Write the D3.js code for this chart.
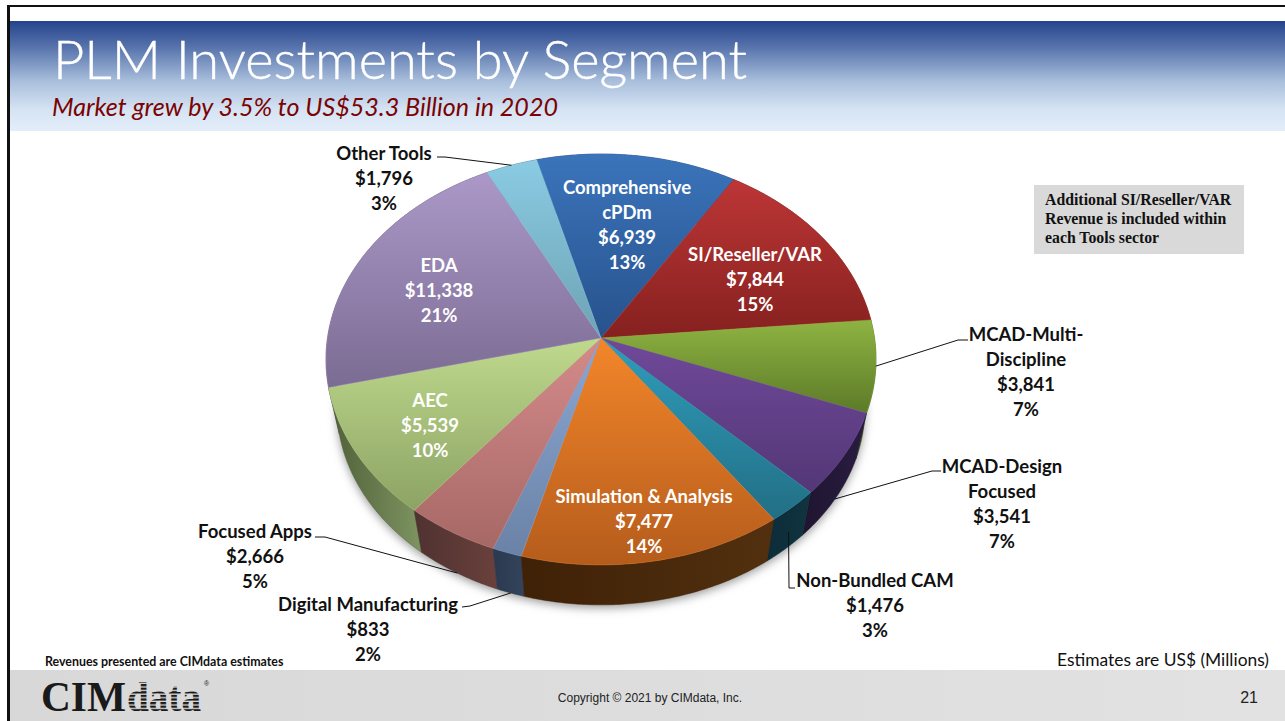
<!DOCTYPE html>
<html><head><meta charset="utf-8">
<script src="https://cdn.jsdelivr.net/npm/d3@7/dist/d3.min.js"></script>
<style>html,body{margin:0;padding:0;background:#fff;overflow:hidden}svg{display:block}</style>
</head><body><svg id="c" width="1285" height="721"></svg>
<script>
// ---- data ----
const segments = ["Comprehensive cPDm","SI/Reseller/VAR","MCAD-Multi-Discipline","MCAD-Design Focused","Non-Bundled CAM","Simulation & Analysis","Digital Manufacturing","Focused Apps","AEC","EDA","Other Tools"];
const values = [6939,7844,3841,3541,1476,7477,833,2666,5539,11338,1796];
const percents = ["13%","15%","7%","7%","3%","14%","2%","5%","10%","21%","3%"];
const valueLabels = ["$6,939","$7,844","$3,841","$3,541","$1,476","$7,477","$833","$2,666","$5,539","$11,338","$1,796"];
const nameLines = [["Comprehensive","cPDm"],["SI/Reseller/VAR"],["MCAD-Multi-","Discipline"],["MCAD-Design","Focused"],["Non-Bundled CAM"],["Simulation & Analysis"],["Digital Manufacturing"],["Focused Apps"],["AEC"],["EDA"],["Other Tools"]];

// ---- styles and layout (separate from data) ----
const topLight = ["#3b74bb","#bd3636","#8fb342","#70499a","#2f9dbb","#f3862a","#8ba7d3","#d48b8a","#bfd98d","#ab98c8","#8acbe3"];
const topDark  = ["#27528c","#85211f","#5c7a28","#533776","#226f85","#b55c1c","#6a82a6","#a66866","#8ca364","#7b6c93","#6ea3b4"];
const sideA = ["#1d3558","#4f1716","#3a4a18","#1f1530","#0c2c38","#3f2107","#2a394e","#4f3230","#4f5f38","#4a4058","#40606c"];
const sideB = ["#1d3558","#4f1716","#3a4a18","#2a1c42","#103440","#52300f","#33445c","#6a403c","#7e9461","#4a4058","#40606c"];
const labelLayout = [
 {x:627,y:188,c:"#fff"},{x:755,y:255,c:"#fff"},{x:1026,y:335,c:"#111",lead:[[968,340],[958,340]],z:0},
 {x:1002,y:467,c:"#111",lead:[[941,471],[932,471]],z:1},{x:875,y:581,c:"#111",lead:[[795,588],[789,588]],z:.6},
 {x:644,y:497,c:"#fff"},{x:368,y:605,c:"#111",lead:[[462,607],[470,606]],z:1},
 {x:255,y:532,c:"#111",lead:[[315,537],[325,537]],z:1},{x:430,y:401,c:"#fff"},{x:439,y:266,c:"#fff"},
 {x:384,y:154,c:"#111",lead:[[437,157],[445,157]],z:0}];
const lineStep = 25;
const pieGeom = {cx:601, cy:338, R:273.5, S:203.2, k:-0.1046, depth:49, shrink:0.96, start:-15*Math.PI/180};

const svg = d3.select("#c");
const defs = svg.append("defs");

function grad(id, stops, vertical){
  const g = defs.append("linearGradient").attr("id",id)
    .attr("x1",0).attr("y1",0).attr("x2",vertical?0:1).attr("y2",vertical?1:0);
  stops.forEach(s=>g.append("stop").attr("offset",s[0]).attr("stop-color",s[1]));
}
grad("hdr",[[0,"#25438c"],[.25,"#5a76ae"],[.55,"#a9bfdc"],[.8,"#d5e3f3"],[1,"#e3eef9"]],true);
grad("ftr",[[0,"#d8d8d8"],[1,"#e2e2e2"]],false);
const stripe = defs.append("pattern").attr("id","stripe").attr("patternUnits","userSpaceOnUse").attr("width",4).attr("height",3.6);
stripe.append("rect").attr("width",4).attr("height",2.3).attr("fill","#1a1a1a");
defs.append("filter").attr("id","blur").append("feGaussianBlur").attr("stdDeviation",5);

// ---- slide frame ----
svg.append("rect").attr("x",7).attr("y",21).attr("width",1278).attr("height",110).attr("fill","url(#hdr)");
svg.append("rect").attr("x",9).attr("y",670).attr("width",1276).attr("height",51).attr("fill","url(#ftr)");
svg.append("rect").attr("x",7).attr("y",5).attr("width",1278).attr("height",2).attr("fill","#111");
svg.append("rect").attr("x",7).attr("y",5).attr("width",3).attr("height",716).attr("fill","#111");

svg.append("text").attr("x",53).attr("y",79).attr("font-family","Lato").attr("font-weight",300).attr("font-size",53).attr("fill","#fff").attr("stroke","#fff").attr("stroke-width",.4).attr("textLength",694).attr("lengthAdjust","spacingAndGlyphs").text("PLM Investments by Segment");
svg.append("text").attr("x",52).attr("y",116).attr("font-family","Lato").attr("font-style","italic").attr("font-size",25).attr("fill","#7a0303").attr("textLength",506).attr("lengthAdjust","spacingAndGlyphs").text("Market grew by 3.5% to US$53.3 Billion in 2020");

// ---- pie ----
const pie = d3.pie().sort(null).startAngle(pieGeom.start).endAngle(pieGeom.start+2*Math.PI)(values);
function rim(a, z){
  const u=Math.sin(a), v=-Math.cos(a), w=1+pieGeom.k*v, f=1+(pieGeom.shrink-1)*z;
  return [pieGeom.cx+pieGeom.R*f*u/w, pieGeom.cy+pieGeom.S*f*v/w+pieGeom.depth*z];
}
function arcPts(d,z){
  const n=Math.max(2,Math.ceil((d.endAngle-d.startAngle)/0.01));
  return d3.range(n+1).map(i=>rim(d.startAngle+(d.endAngle-d.startAngle)*i/n,z));
}
const line=d3.line();
pie.forEach((d,i)=>{
  grad("t"+i,[[0,topLight[i]],[1,topDark[i]]],true);
  grad("s"+i,[[0,sideA[i]],[1,sideB[i]]],false);
});
// soft shadow
svg.append("path").attr("d",line(d3.range(0,6.3,.05).map(a=>{const p=rim(a,1);return [p[0],p[1]+3];}))+"Z").attr("fill","#999").attr("filter","url(#blur)");
// sides, then tops
const order=d3.range(pie.length).sort((a,b)=>Math.cos((pie[b].startAngle+pie[b].endAngle)/2)-Math.cos((pie[a].startAngle+pie[a].endAngle)/2));
svg.append("g").selectAll("path").data(order).join("path")
  .attr("d",i=>line(arcPts(pie[i],0).concat(arcPts(pie[i],1).reverse()))+"Z")
  .attr("fill",i=>`url(#s${i})`).attr("stroke",i=>sideA[i]).attr("stroke-width",.5);
svg.append("g").selectAll("path").data(pie).join("path")
  .attr("d",d=>line([[pieGeom.cx,pieGeom.cy]].concat(arcPts(d,0)))+"Z")
  .attr("fill",(d,i)=>`url(#t${i})`).attr("stroke",(d,i)=>topLight[i]).attr("stroke-width",.4);

// ---- leaders ----
pie.forEach((d,i)=>{
  const L=labelLayout[i]; if(!L.lead) return;
  const end=rim((d.startAngle+d.endAngle)/2,L.z);
  svg.append("path").attr("d",line([L.lead[0],L.lead[1],end])).attr("fill","none").attr("stroke","#111").attr("stroke-width",1);
});

// ---- labels ----
pie.forEach((d,i)=>{
  const L=labelLayout[i];
  const lines=nameLines[i].concat([valueLabels[i],percents[i]]);
  const t=svg.append("text").attr("text-anchor","middle").attr("font-family","Lato").attr("font-weight",700).attr("font-size",18.5).attr("fill",L.c);
  lines.forEach((s,j)=>t.append("tspan").attr("x",L.x).attr("y",L.y+6+j*lineStep).text(s));
});

// ---- note and footer ----
svg.append("rect").attr("x",1034).attr("y",185).attr("width",210).attr("height",69).attr("fill","#d9d9d9");
["Additional SI/Reseller/VAR","Revenue is included within","each Tools sector"].forEach((s,j)=>
  svg.append("text").attr("x",1045).attr("y",205+j*19).attr("font-family","Liberation Serif").attr("font-weight",700).attr("font-size",15.8).attr("fill","#111").text(s));
svg.append("text").attr("x",45).attr("y",666).attr("font-family","Lato").attr("font-weight",700).attr("font-size",12.4).attr("fill","#111").text("Revenues presented are CIMdata estimates");
svg.append("text").attr("x",1269).attr("y",666).attr("text-anchor","end").attr("font-family","Lato").attr("font-size",17.4).attr("fill","#111").text("Estimates are US$ (Millions)");
svg.append("text").attr("x",650).attr("y",702).attr("text-anchor","middle").attr("font-family","Liberation Sans").attr("font-size",12).attr("fill","#222").text("Copyright © 2021 by CIMdata, Inc.");
svg.append("text").attr("x",1258).attr("y",703).attr("text-anchor","end").attr("font-family","Liberation Sans").attr("font-size",16).attr("fill","#222").text("21");
svg.append("text").attr("x",41).attr("y",711).attr("font-family","Liberation Serif").attr("font-weight",700).attr("font-size",43).attr("fill","#1a1a1a").attr("textLength",85).attr("lengthAdjust","spacingAndGlyphs").text("CIM");
svg.append("text").attr("x",127).attr("y",711).attr("font-family","Liberation Serif").attr("font-weight",700).attr("font-size",43).attr("fill","url(#stripe)").attr("textLength",74).attr("lengthAdjust","spacingAndGlyphs").text("data");
svg.append("text").attr("x",204).attr("y",686).attr("font-family","Liberation Sans").attr("font-size",7).attr("fill","#222").text("®");
</script></body></html>
